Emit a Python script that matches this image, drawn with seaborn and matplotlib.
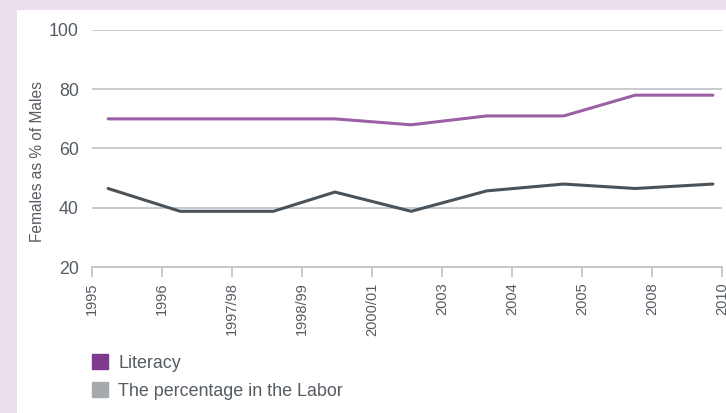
import matplotlib.pyplot as plt
import matplotlib.patches as mpatches
import seaborn as sns
import pandas as pd

# tick labels on the x axis (category boundaries)
year_labels = ["1995", "1996", "1997/98", "1998/99", "2000/01",
               "2003", "2004", "2005", "2008", "2010"]

# where each observation sits along the axis, in tick units
x_pos = [0.23, 1.26, 2.59, 3.47, 4.56, 5.64, 6.74, 7.76, 8.87]

literacy = [70, 70, 70, 70, 68, 71, 71, 78, 78]
labor = [46.5, 38.8, 38.8, 45.3, 38.8, 45.7, 48, 46.5, 48]

df = pd.DataFrame({"x": x_pos * 2,
                   "value": literacy + labor,
                   "series": ["Literacy"] * len(x_pos) + ["The percentage in the Labor"] * len(x_pos)})

sns.set_style("white")
plt.rcParams['font.family'] = ['Liberation Sans', 'DejaVu Sans']

text_col = "#555c63"
grid_col = "#c3c7cb"

fig = plt.figure(figsize=(7.26, 4.13), dpi=100)
fig.patch.set_facecolor("#ecdfed")
# white panel inside the pink frame
fig.patches.append(mpatches.Rectangle((17 / 726, 0), 1, 1 - 10 / 413,
                                      transform=fig.transFigure,
                                      facecolor="white", edgecolor="none", zorder=-10))

ax = fig.add_axes([92 / 726, 1 - 267 / 413, (722 - 92) / 726, (267 - 30) / 413])
ax.set_facecolor("none")

sns.lineplot(data=df, x="x", y="value", hue="series",
             palette={"Literacy": "#9b5fa5", "The percentage in the Labor": "#4b535a"},
             linewidth=2.2, legend=False, ax=ax)

ax.set_xlim(0, len(year_labels) - 1)
ax.set_ylim(20, 100)
ax.set_xticks(range(len(year_labels)))
ax.set_xticklabels(year_labels, rotation=90, va="top")
ax.set_yticks([20, 40, 60, 80, 100])
ax.yaxis.grid(True, color=grid_col, linewidth=1.3)
ax.set_axisbelow(True)

for s in ["top", "right", "left"]:
    ax.spines[s].set_visible(False)
ax.spines["bottom"].set_color(grid_col)
ax.spines["bottom"].set_linewidth(1.3)

ax.tick_params(axis="x", bottom=True, length=7, width=1.3, color=grid_col,
               labelsize=10.5, labelcolor=text_col, pad=4)
ax.tick_params(axis="y", left=False, labelsize=12.8, labelcolor=text_col, pad=6)

ax.set_xlabel("")
ax.set_ylabel("Females as % of Males", fontsize=11.2, color=text_col)
ax.yaxis.set_label_coords(-0.0746, 0.443)

handles = [mpatches.Patch(color="#7d3a8e", label="Literacy"),
           mpatches.Patch(color="#a6aaae", label="The percentage in the Labor")]
fig.legend(handles=handles, loc="upper left", bbox_to_anchor=(76 / 726, 1 - 338 / 413),
           frameon=False, fontsize=12.9, labelcolor=text_col,
           handlelength=0.9, handleheight=0.9, handletextpad=0.55, labelspacing=0.6)

fig.savefig("out.png", dpi=100, facecolor=fig.get_facecolor())
